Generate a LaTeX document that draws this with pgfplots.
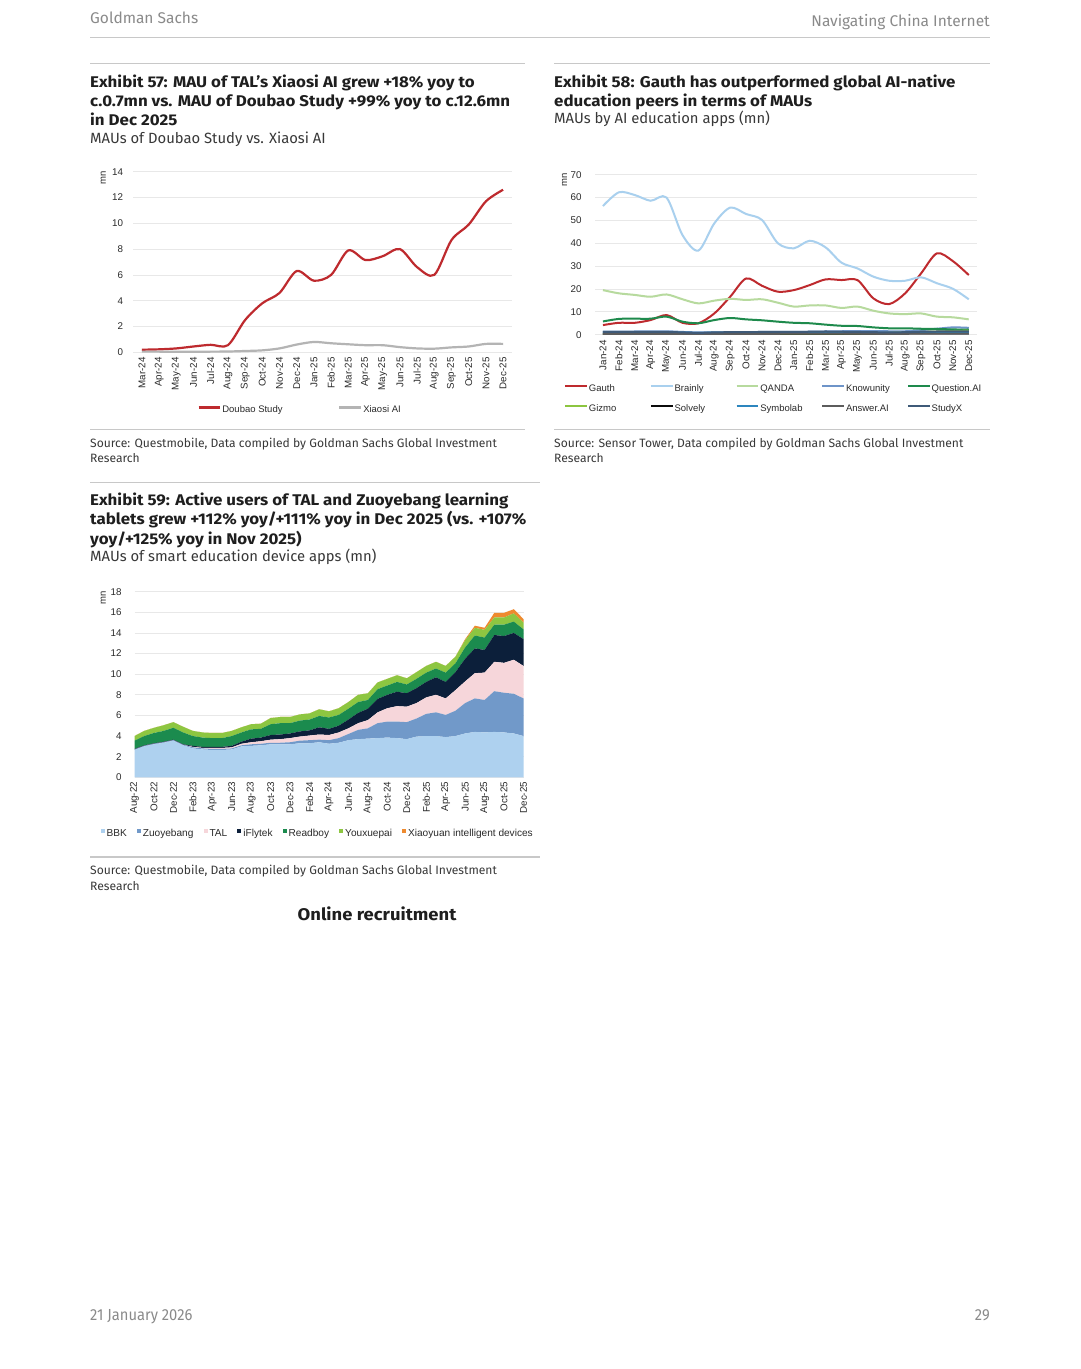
\documentclass[border=0pt]{standalone}
\usepackage{fontspec}
\setmainfont{Fira Sans}[BoldFeatures={FakeStretch=1.09}]
\newfontfamily\chartfont{Liberation Sans}
\newfontfamily\condfont[FakeStretch=0.92]{Fira Sans}
\usepackage{pgfplots}
\pgfplotsset{compat=1.18}
\usepackage{pgfplotstable}

\definecolor{titlecol}{HTML}{1E1E1E}
\definecolor{subcol}{HTML}{383838}
\definecolor{headcol}{HTML}{8A8A8A}
\definecolor{rulecol}{HTML}{C8C8C8}
\definecolor{gridcol}{HTML}{E8E8E8}
\definecolor{tickcol}{HTML}{2A2A2A}
% exhibit 57 / 58 lines
\definecolor{gsred}{HTML}{BE2A2E}
\definecolor{gsgrey}{HTML}{B4B4B4}
\definecolor{brainly}{HTML}{A9D0EE}
\definecolor{qanda}{HTML}{B7DA9E}
\definecolor{knowunity}{HTML}{6E94C8}
\definecolor{questionai}{HTML}{1E8A4C}
\definecolor{gizmo}{HTML}{8CC540}
\definecolor{solvely}{HTML}{0B0B0B}
\definecolor{symbolab}{HTML}{2D86BE}
\definecolor{answerai}{HTML}{5C5C5C}
\definecolor{studyx}{HTML}{3F5A78}
% exhibit 59 areas
\definecolor{bbk}{HTML}{AED1EF}
\definecolor{zuoyebang}{HTML}{7199C9}
\definecolor{tal}{HTML}{F6D6DA}
\definecolor{iflytek}{HTML}{0C1F3A}
\definecolor{readboy}{HTML}{1B8B4E}
\definecolor{youxuepai}{HTML}{8DC641}
\definecolor{xiaoyuan}{HTML}{EE8A2F}

\newcommand{\ttl}{\fontsize{15.5}{19}\selectfont\bfseries\color{titlecol}}
\newcommand{\sub}{\fontsize{14.8}{17}\selectfont\color{subcol}}
\newcommand{\src}{\fontsize{12.1}{15}\selectfont\color{subcol}}
\newcommand{\chf}{\chartfont\fontsize{9.5}{11}\selectfont}
\newcommand{\chft}{\chartfont\fontsize{9.8}{11}\selectfont}
\newcommand{\chfl}{\chartfont\fontsize{10.1}{11}\selectfont}

% Exhibit 57: MAU (mn), Mar-24 .. Dec-25
\pgfplotstableread{
x doubao xiaosi
0 0.20 0.05
1 0.23 0.05
2 0.30 0.04
3 0.45 0.04
4 0.58 0.05
5 0.55 0.06
6 2.50 0.10
7 3.80 0.15
8 4.60 0.30
9 6.30 0.60
10 5.55 0.80
11 6.00 0.70
12 7.90 0.62
13 7.15 0.55
14 7.45 0.55
15 8.00 0.40
16 6.60 0.30
17 6.00 0.28
18 8.70 0.38
19 9.90 0.45
20 11.70 0.65
21 12.60 0.65
}\exAtab

% Exhibit 58: MAU (mn), Jan-24 .. Dec-25
\pgfplotstableread{
x gauth brainly qanda knowunity questionai gizmo solvely symbolab answerai studyx
0 4.2 56.3 19.5 1.3 5.8 0.2 0.2 1.0 0.3 1.2
1 5.2 62.3 18.1 1.3 6.9 0.2 0.2 1.0 0.3 1.2
2 5.2 61.1 17.4 1.4 7.0 0.2 0.2 1.0 0.3 1.2
3 6.4 58.6 16.6 1.4 7.0 0.2 0.2 1.0 0.3 1.2
4 8.6 60.0 17.6 1.5 7.9 0.2 0.2 1.0 0.3 1.2
5 5.2 43.6 15.5 1.2 5.7 0.2 0.2 0.9 0.3 1.0
6 5.0 36.8 13.7 1.0 5.0 0.2 0.3 0.8 0.3 0.8
7 9.3 48.7 14.9 1.0 6.4 0.3 0.3 0.9 0.4 1.0
8 16.6 55.6 15.7 1.1 7.3 0.3 0.4 0.9 0.4 1.1
9 24.6 52.8 15.2 1.1 6.7 0.3 0.4 0.9 0.4 1.1
10 21.4 50.2 15.5 1.2 6.3 0.3 0.4 0.9 0.4 1.2
11 18.8 40.0 14.0 1.2 5.7 0.3 0.4 0.9 0.4 1.2
12 19.5 37.8 12.3 1.2 5.2 0.3 0.5 0.9 0.5 1.2
13 21.7 41.1 12.8 1.3 5.0 0.4 0.5 0.9 0.5 1.3
14 24.2 38.2 12.8 1.4 4.4 0.4 0.5 0.9 0.5 1.4
15 23.9 31.5 11.7 1.5 3.9 0.4 0.5 0.8 0.5 1.3
16 23.9 29.0 12.3 1.6 3.8 0.5 0.5 0.8 0.5 1.2
17 15.9 25.4 10.5 1.6 3.2 0.6 0.5 0.8 0.5 1.1
18 13.4 23.6 9.3 1.5 2.8 0.8 0.5 0.8 0.5 1.0
19 18.1 23.6 9.0 1.5 2.8 1.0 0.5 0.8 0.5 1.1
20 26.8 25.1 9.3 2.0 2.6 1.2 0.6 0.8 0.5 1.3
21 35.6 22.5 7.9 2.6 2.5 1.4 0.6 0.8 0.5 1.4
22 32.2 20.1 7.6 3.2 2.3 1.6 0.6 0.7 0.5 1.4
23 26.1 15.5 6.7 3.0 2.2 1.8 0.6 0.7 0.5 1.4
}\exBtab

% Exhibit 59: MAU (mn) by device brand, Aug-22 .. Dec-25 (layer values, stacked)
\pgfplotstableread{
x bbk zuo tal ifly readboy youx xiao
0 2.65 0.05 0.00 0.05 0.80 0.45 0
1 3.00 0.05 0.00 0.05 0.90 0.50 0
2 3.20 0.05 0.00 0.05 1.00 0.50 0
3 3.35 0.05 0.00 0.05 1.05 0.55 0
4 3.55 0.05 0.00 0.05 1.15 0.55 0
5 3.10 0.05 0.00 0.05 1.15 0.55 0
6 2.80 0.10 0.05 0.10 0.95 0.50 0
7 2.70 0.10 0.05 0.10 0.90 0.50 0
8 2.65 0.10 0.10 0.10 0.85 0.50 0
9 2.65 0.10 0.10 0.10 0.85 0.50 0
10 2.70 0.10 0.10 0.15 0.95 0.50 0
11 3.00 0.10 0.15 0.20 0.90 0.50 0
12 3.05 0.15 0.20 0.35 0.90 0.50 0
13 3.10 0.15 0.25 0.35 0.85 0.50 0
14 3.20 0.15 0.30 0.45 1.05 0.60 0
15 3.20 0.15 0.35 0.45 1.10 0.60 0
16 3.20 0.20 0.40 0.45 1.00 0.60 0
17 3.30 0.25 0.40 0.50 1.05 0.60 0
18 3.30 0.30 0.45 0.50 1.05 0.60 0
19 3.40 0.25 0.50 0.70 1.10 0.65 0
20 3.25 0.35 0.50 0.60 1.10 0.60 0
21 3.35 0.45 0.55 0.65 1.05 0.65 0
22 3.60 0.60 0.55 0.85 1.05 0.65 0
23 3.70 0.90 0.65 1.00 1.05 0.70 0
24 3.75 1.00 0.80 1.10 0.85 0.65 0
25 3.80 1.45 1.05 1.30 0.95 0.65 0
26 3.85 1.55 1.30 1.30 0.90 0.65 0
27 3.80 1.60 1.50 1.40 0.95 0.65 0
28 3.70 1.65 1.50 1.30 0.85 0.60 0
29 3.95 1.75 1.50 1.45 0.90 0.65 0
30 4.00 2.15 1.60 1.50 0.90 0.65 0
31 4.00 2.30 1.70 1.70 0.85 0.65 0
32 3.90 2.15 1.60 1.60 0.90 0.65 0
33 4.00 2.45 2.00 1.75 0.85 0.65 0
34 4.25 2.95 2.10 2.20 1.10 0.70 0.10
35 4.40 3.25 2.45 2.40 1.25 0.75 0.20
36 4.35 3.15 2.65 2.20 1.20 0.75 0.20
37 4.40 3.95 2.85 2.60 1.00 0.70 0.45
38 4.35 3.85 2.90 2.60 1.10 0.70 0.45
39 4.25 3.85 3.30 2.60 1.10 0.80 0.40
40 4.00 3.65 3.15 2.60 0.95 0.65 0.35
}\exCtab

\pgfplotsset{
  gsbase/.style={
    scale only axis, anchor=south west,
    clip mode=individual,
    axis line style={draw=none},
    major tick length=0pt,
    ymin=0, ymajorgrids,
    grid style={draw=gridcol, line width=0.7pt},
    tick label style={font=\chft, text=tickcol},
    /pgf/number format/assume math mode=true,
    x tick label style={rotate=90, anchor=east},
    legend style={draw=none, fill=none, inner sep=0pt, font=\chf, text=tickcol,
      nodes={inner xsep=1pt, inner ysep=1pt, text height=7pt, text depth=2pt},
      anchor=west},
  },
  gsline/.style={
    legend image code/.code={\path[draw=none, fill=none] (0pt,-2pt) rectangle (21.7pt,7pt);
      \draw[##1] (0pt,2.6pt) -- (21.7pt,2.6pt);},
  },
  gsarea/.style={
    legend image code/.code={\path[draw=none, fill=none] (0pt,-2pt) rectangle (5.4pt,7pt);
      \fill[##1] (0.4pt,1pt) rectangle (4.4pt,5pt);},
  },
}

\begin{document}
\begin{tikzpicture}
\path[use as bounding box, fill=white] (0pt,0pt) rectangle (1080pt,1369pt);

% ---------- page furniture, coordinates in pixels from the top left ----------
\begin{scope}[x=1pt, y=-1pt, shift={(0pt,1369pt)}]
  \node[anchor=base west, inner sep=0, font=\fontsize{15.5}{17}\selectfont, text=headcol] at (90,23.3) {Goldman Sachs};
  \node[anchor=base east, inner sep=0, font=\fontsize{15.5}{17}\selectfont, text=headcol] at (990,26.7) {Navigating China Internet};
  \draw[rulecol, line width=1.4pt] (90,37.7) -- (990,37.7);

  \draw[rulecol, line width=1.2pt] (90,63.3) -- (525,63.3);
  \draw[rulecol, line width=1.2pt] (554,63.3) -- (990,63.3);
  \draw[rulecol, line width=1.2pt] (90,429.3) -- (525,429.3);
  \draw[rulecol, line width=1.2pt] (554,429.3) -- (990,429.3);
  \draw[rulecol, line width=1.2pt] (90,482.7) -- (540,482.7);
  \draw[rulecol, line width=1.2pt] (90,857) -- (540,857);

  % Exhibit 57
  \node[anchor=base west, inner sep=0, font=\ttl] at (90,87.3) {Exhibit 57: MAU of TAL’s Xiaosi AI grew +18\% yoy to};
  \node[anchor=base west, inner sep=0, font=\ttl] at (90,106.7) {c.0.7mn vs. MAU of Doubao Study +99\% yoy to c.12.6mn};
  \node[anchor=base west, inner sep=0, font=\ttl] at (90,125.7) {in Dec 2025};
  \node[anchor=base west, inner sep=0, font=\sub] at (90,143.3) {MAUs of Doubao Study vs. Xiaosi AI};
  \node[anchor=base west, inner sep=0, font=\src] at (90,447.3) {Source: Questmobile, Data compiled by Goldman Sachs Global Investment};
  \node[anchor=base west, inner sep=0, font=\src] at (90,462.7) {Research};

  % Exhibit 58
  \node[anchor=base west, inner sep=0, font=\ttl] at (554,87.3) {Exhibit 58: Gauth has outperformed global AI-native};
  \node[anchor=base west, inner sep=0, font=\ttl] at (554,106.7) {education peers in terms of MAUs};
  \node[anchor=base west, inner sep=0, font=\sub] at (554,124) {MAUs by AI education apps (mn)};
  \node[anchor=base west, inner sep=0, font=\src] at (554,447.3) {Source: Sensor Tower, Data compiled by Goldman Sachs Global Investment};
  \node[anchor=base west, inner sep=0, font=\src] at (554,462.7) {Research};

  % Exhibit 59
  \node[anchor=base west, inner sep=0, font=\ttl] at (90,505.7) {Exhibit 59: Active users of TAL and Zuoyebang learning};
  \node[anchor=base west, inner sep=0, font=\ttl] at (90,525) {tablets grew +112\% yoy/+111\% yoy in Dec 2025 (vs. +107\%};
  \node[anchor=base west, inner sep=0, font=\ttl] at (90,544.3) {yoy/+125\% yoy in Nov 2025)};
  \node[anchor=base west, inner sep=0, font=\sub] at (90,561.7) {MAUs of smart education device apps (mn)};
  \node[anchor=base west, inner sep=0, font=\src] at (90,875) {Source: Questmobile, Data compiled by Goldman Sachs Global Investment};
  \node[anchor=base west, inner sep=0, font=\src] at (90,890.4) {Research};

  \node[anchor=base, inner sep=0, font=\fontsize{16.9}{19}\selectfont\bfseries, text=titlecol] at (377,921) {Online recruitment};

  \node[anchor=base west, inner sep=0, font=\condfont\fontsize{16}{18}\selectfont, text=headcol] at (90,1321) {21 January 2026};
  \node[anchor=base east, inner sep=0, font=\condfont\fontsize{16}{18}\selectfont, text=headcol] at (990,1321) {29};
\end{scope}

% ---------- Exhibit 57 ----------
\begin{axis}[gsbase, gsline,
  at={(133.3pt,1016.7pt)}, width=378.4pt, height=180.6pt,
  xmin=-0.5, xmax=21.5, ymax=14, ytick={0,2,...,14},
  xtick={0,...,21},
  xticklabels={Mar-24,Apr-24,May-24,Jun-24,Jul-24,Aug-24,Sep-24,Oct-24,Nov-24,Dec-24,Jan-25,Feb-25,Mar-25,Apr-25,May-25,Jun-25,Jul-25,Aug-25,Sep-25,Oct-25,Nov-25,Dec-25},
  y tick label style={inner xsep=10pt},
  x tick label style={inner xsep=5pt},
  legend columns=2,
  legend style={at={(axis description cs:0.169,-0.3156)}},
]
\addplot[gsred, line width=2.2pt, smooth] table[x=x, y=doubao] {\exAtab};
\addlegendentry{\makebox[115pt][l]{Doubao Study}}
\addplot[gsgrey, line width=2.2pt, smooth] table[x=x, y=xiaosi] {\exAtab};
\addlegendentry{Xiaosi AI}
\node[rotate=90, font=\chf, text=tickcol] at (axis description cs:-0.0793,0.968) {mn};
\end{axis}

% ---------- Exhibit 58 ----------
\begin{axis}[gsbase, gsline,
  at={(595pt,1034.3pt)}, width=381.7pt, height=160pt,
  xmin=-0.5, xmax=23.5, ymax=70, ytick={0,10,...,70},
  xtick={0,...,23},
  xticklabels={Jan-24,Feb-24,Mar-24,Apr-24,May-24,Jun-24,Jul-24,Aug-24,Sep-24,Oct-24,Nov-24,Dec-24,Jan-25,Feb-25,Mar-25,Apr-25,May-25,Jun-25,Jul-25,Aug-25,Sep-25,Oct-25,Nov-25,Dec-25},
  y tick label style={inner xsep=13.3pt},
  x tick label style={inner xsep=5.3pt},
  legend columns=5,
  legend style={at={(axis description cs:-0.0812,-0.397)}, row sep=7.3pt},
]
\addplot[gsred, line width=2pt, smooth] table[x=x, y=gauth] {\exBtab};
\addlegendentry{\makebox[60pt][l]{Gauth}}
\addplot[brainly, line width=2pt, smooth] table[x=x, y=brainly] {\exBtab};
\addlegendentry{\makebox[60pt][l]{Brainly}}
\addplot[qanda, line width=2pt, smooth] table[x=x, y=qanda] {\exBtab};
\addlegendentry{\makebox[60pt][l]{QANDA}}
\addplot[knowunity, line width=2pt, smooth] table[x=x, y=knowunity] {\exBtab};
\addlegendentry{\makebox[60pt][l]{Knowunity}}
\addplot[questionai, line width=2pt, smooth] table[x=x, y=questionai] {\exBtab};
\addlegendentry{\makebox[60pt][l]{Question.AI}}
\addplot[gizmo, line width=2pt, smooth] table[x=x, y=gizmo] {\exBtab};
\addlegendentry{\makebox[60pt][l]{Gizmo}}
\addplot[solvely, line width=2pt, smooth] table[x=x, y=solvely] {\exBtab};
\addlegendentry{\makebox[60pt][l]{Solvely}}
\addplot[symbolab, line width=2pt, smooth] table[x=x, y=symbolab] {\exBtab};
\addlegendentry{\makebox[60pt][l]{Symbolab}}
\addplot[answerai, line width=2pt, smooth] table[x=x, y=answerai] {\exBtab};
\addlegendentry{\makebox[60pt][l]{Answer.AI}}
\addplot[studyx, line width=2pt, smooth] table[x=x, y=studyx] {\exBtab};
\addlegendentry{\makebox[60pt][l]{StudyX}}
\node[rotate=90, font=\chf, text=tickcol] at (axis description cs:-0.0799,0.967) {mn};
\end{axis}

% ---------- Exhibit 59 ----------
\begin{axis}[gsbase, gsarea,
  at={(134.5pt,591.7pt)}, width=389pt, height=185.6pt,
  xmin=0, xmax=40, ymax=18, ytick={0,2,...,18},
  xtick={0,2,...,40},
  xticklabels={Aug-22,Oct-22,Dec-22,Feb-23,Apr-23,Jun-23,Aug-23,Oct-23,Dec-23,Feb-24,Apr-24,Jun-24,Aug-24,Oct-24,Dec-24,Feb-25,Apr-25,Jun-25,Aug-25,Oct-25,Dec-25},
  y tick label style={inner xsep=12.8pt},
  x tick label style={inner xsep=4.4pt},
  stack plots=y,
  legend columns=-1,
  legend style={font=\chfl, at={(axis description cs:-0.0887,-0.3017)},
    /tikz/every even column/.append style={column sep=8.7pt}},
]
\addplot[draw=none, fill=bbk] table[x=x, y=bbk] {\exCtab} \closedcycle;
\addlegendentry{BBK}
\addplot[draw=none, fill=zuoyebang] table[x=x, y=zuo] {\exCtab} \closedcycle;
\addlegendentry{Zuoyebang}
\addplot[draw=none, fill=tal] table[x=x, y=tal] {\exCtab} \closedcycle;
\addlegendentry{TAL}
\addplot[draw=none, fill=iflytek] table[x=x, y=ifly] {\exCtab} \closedcycle;
\addlegendentry{iFlytek}
\addplot[draw=none, fill=readboy] table[x=x, y=readboy] {\exCtab} \closedcycle;
\addlegendentry{Readboy}
\addplot[draw=none, fill=youxuepai] table[x=x, y=youx] {\exCtab} \closedcycle;
\addlegendentry{Youxuepai}
\addplot[draw=none, fill=xiaoyuan] table[x=x, y=xiao] {\exCtab} \closedcycle;
\addlegendentry{Xiaoyuan intelligent devices}
\node[rotate=90, font=\chf, text=tickcol] at (axis description cs:-0.0802,0.9645) {mn};
\end{axis}
\end{tikzpicture}
\end{document}
